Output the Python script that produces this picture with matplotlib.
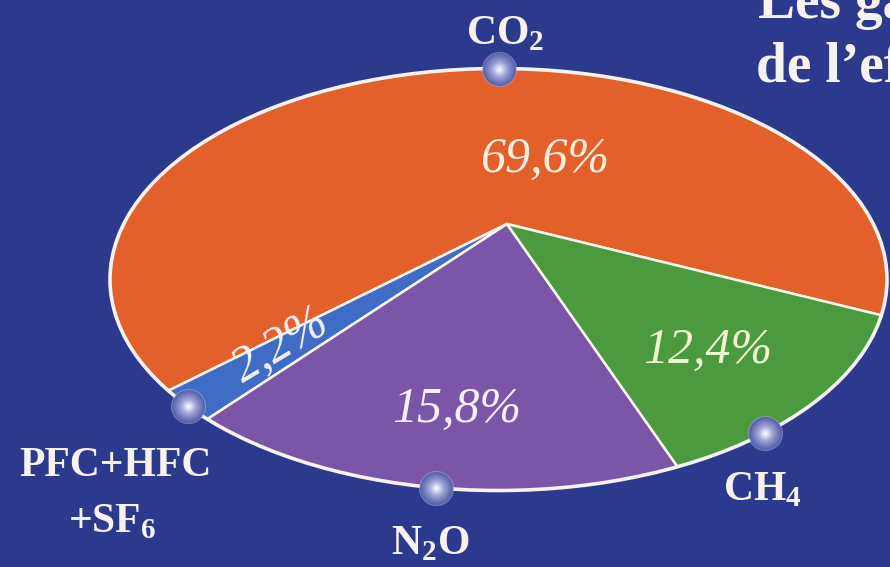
import matplotlib.pyplot as plt
from matplotlib.patches import Ellipse
import numpy as np

# Gaz à effet de serre : parts (%)
gases = ['CO$_\\mathrm{2}$', 'PFC+HFC', 'N$_\\mathrm{2}$O', 'CH$_\\mathrm{4}$']
shares = [69.6, 2.2, 15.8, 12.4]
colors = ['#e4602b', '#3f6cc4', '#7a55a8', '#4b9a3e']
pct_colors = ['#fbeedd', '#f4f0f6', '#f6f0fa', '#eef5cf']

bg = '#2b3a8c'
plt.rcParams['font.family'] = ['Liberation Serif', 'DejaVu Serif']
plt.rcParams['mathtext.fontset'] = 'custom'
plt.rcParams['mathtext.rm'] = 'Liberation Serif:bold'
plt.rcParams['mathtext.bf'] = 'Liberation Serif:bold'

W, H = 890, 567
squash = 0.5          # vertical flattening of the tilted pie


def px(x, y):
    # image pixel -> data coords
    return x, (H - y) / squash


fig = plt.figure(figsize=(8.9, 5.67), dpi=100, facecolor=bg)
ax = fig.add_axes([0, 0, 1, 1])
ax.set_facecolor(bg)

wedges, _ = ax.pie(shares, colors=colors, startangle=-26, counterclock=True,
                   center=px(507, 224), radius=900,
                   wedgeprops=dict(edgecolor='#fbf6ec', linewidth=1.8))
ax.set_aspect('auto')
ax.set_xlim(0, W)
ax.set_ylim(0, H / squash)
ax.axis('off')

# the rim of the disc
ecx, ecy = px(498.5, 279.5)
ea, eb = 388.5, 211 / squash
rim = Ellipse((ecx, ecy), 2 * ea, 2 * eb, fill=False, ec='#f7f2f2', lw=2.6, zorder=3)
ax.add_patch(rim)
for w in wedges:
    w.set_clip_on(True)
    w.set_clip_path(rim)

# small spheres on the rim
bead_angles = [90, 217, 260.7, 313.3]
edge = np.array([88, 98, 170]) / 255
mid = np.array([165, 172, 220]) / 255
core = np.array([248, 248, 255]) / 255
for t in bead_angles:
    bx = ecx + ea * np.cos(np.radians(t))
    by = ecy + eb * np.sin(np.radians(t))
    ax.scatter(bx, by, s=640, color='#9aa4dc', alpha=0.6, zorder=4, lw=0)
    n = 14
    for k in range(n):
        f = k / (n - 1)
        c = edge + (mid - edge) * min(1, f * 1.6) if f < 0.6 else mid + (core - mid) * (f - 0.6) / 0.4
        ax.scatter(bx, by, s=560 * (1 - 0.92 * f) ** 2, color=np.clip(c, 0, 1), lw=0, zorder=5)

# percentage labels
def fmt(v):
    return f'{v:.1f}%'.replace('.', ',')

pct_pos = [(546, 160, 0), (281, 346, 31), (457, 410, 0), (708, 351, 0)]
for v, c, (x, y, rot) in zip(shares, pct_colors, pct_pos):
    ax.text(*px(x, y), fmt(v), color=c, fontsize=36, style='italic',
            ha='center', va='center', rotation=rot, zorder=6)

# gas names
lab_kw = dict(color='#f6f2ee', fontsize=30, fontweight='bold', ha='center', zorder=6)
ax.text(*px(505, 44), gases[0], va='baseline', **lab_kw)
ax.text(*px(115, 476), gases[1], va='baseline', **lab_kw)
ax.text(*px(112, 532), '+SF$_\\mathrm{6}$', va='baseline', **lab_kw)
ax.text(*px(430, 554), gases[2], va='baseline', **lab_kw)
ax.text(*px(762, 500), gases[3], va='baseline', **lab_kw)

# title (cut by the right and top edges, as in the source)
title_kw = dict(color='#f6f2ee', fontsize=40, fontweight='bold', ha='left', va='baseline')
ax.text(*px(758, 18), 'Les gaz', **title_kw)
ax.text(*px(756, 82), 'de l\u2019effet de serre', **title_kw)

fig.savefig('out.png', dpi=100, facecolor=bg)
